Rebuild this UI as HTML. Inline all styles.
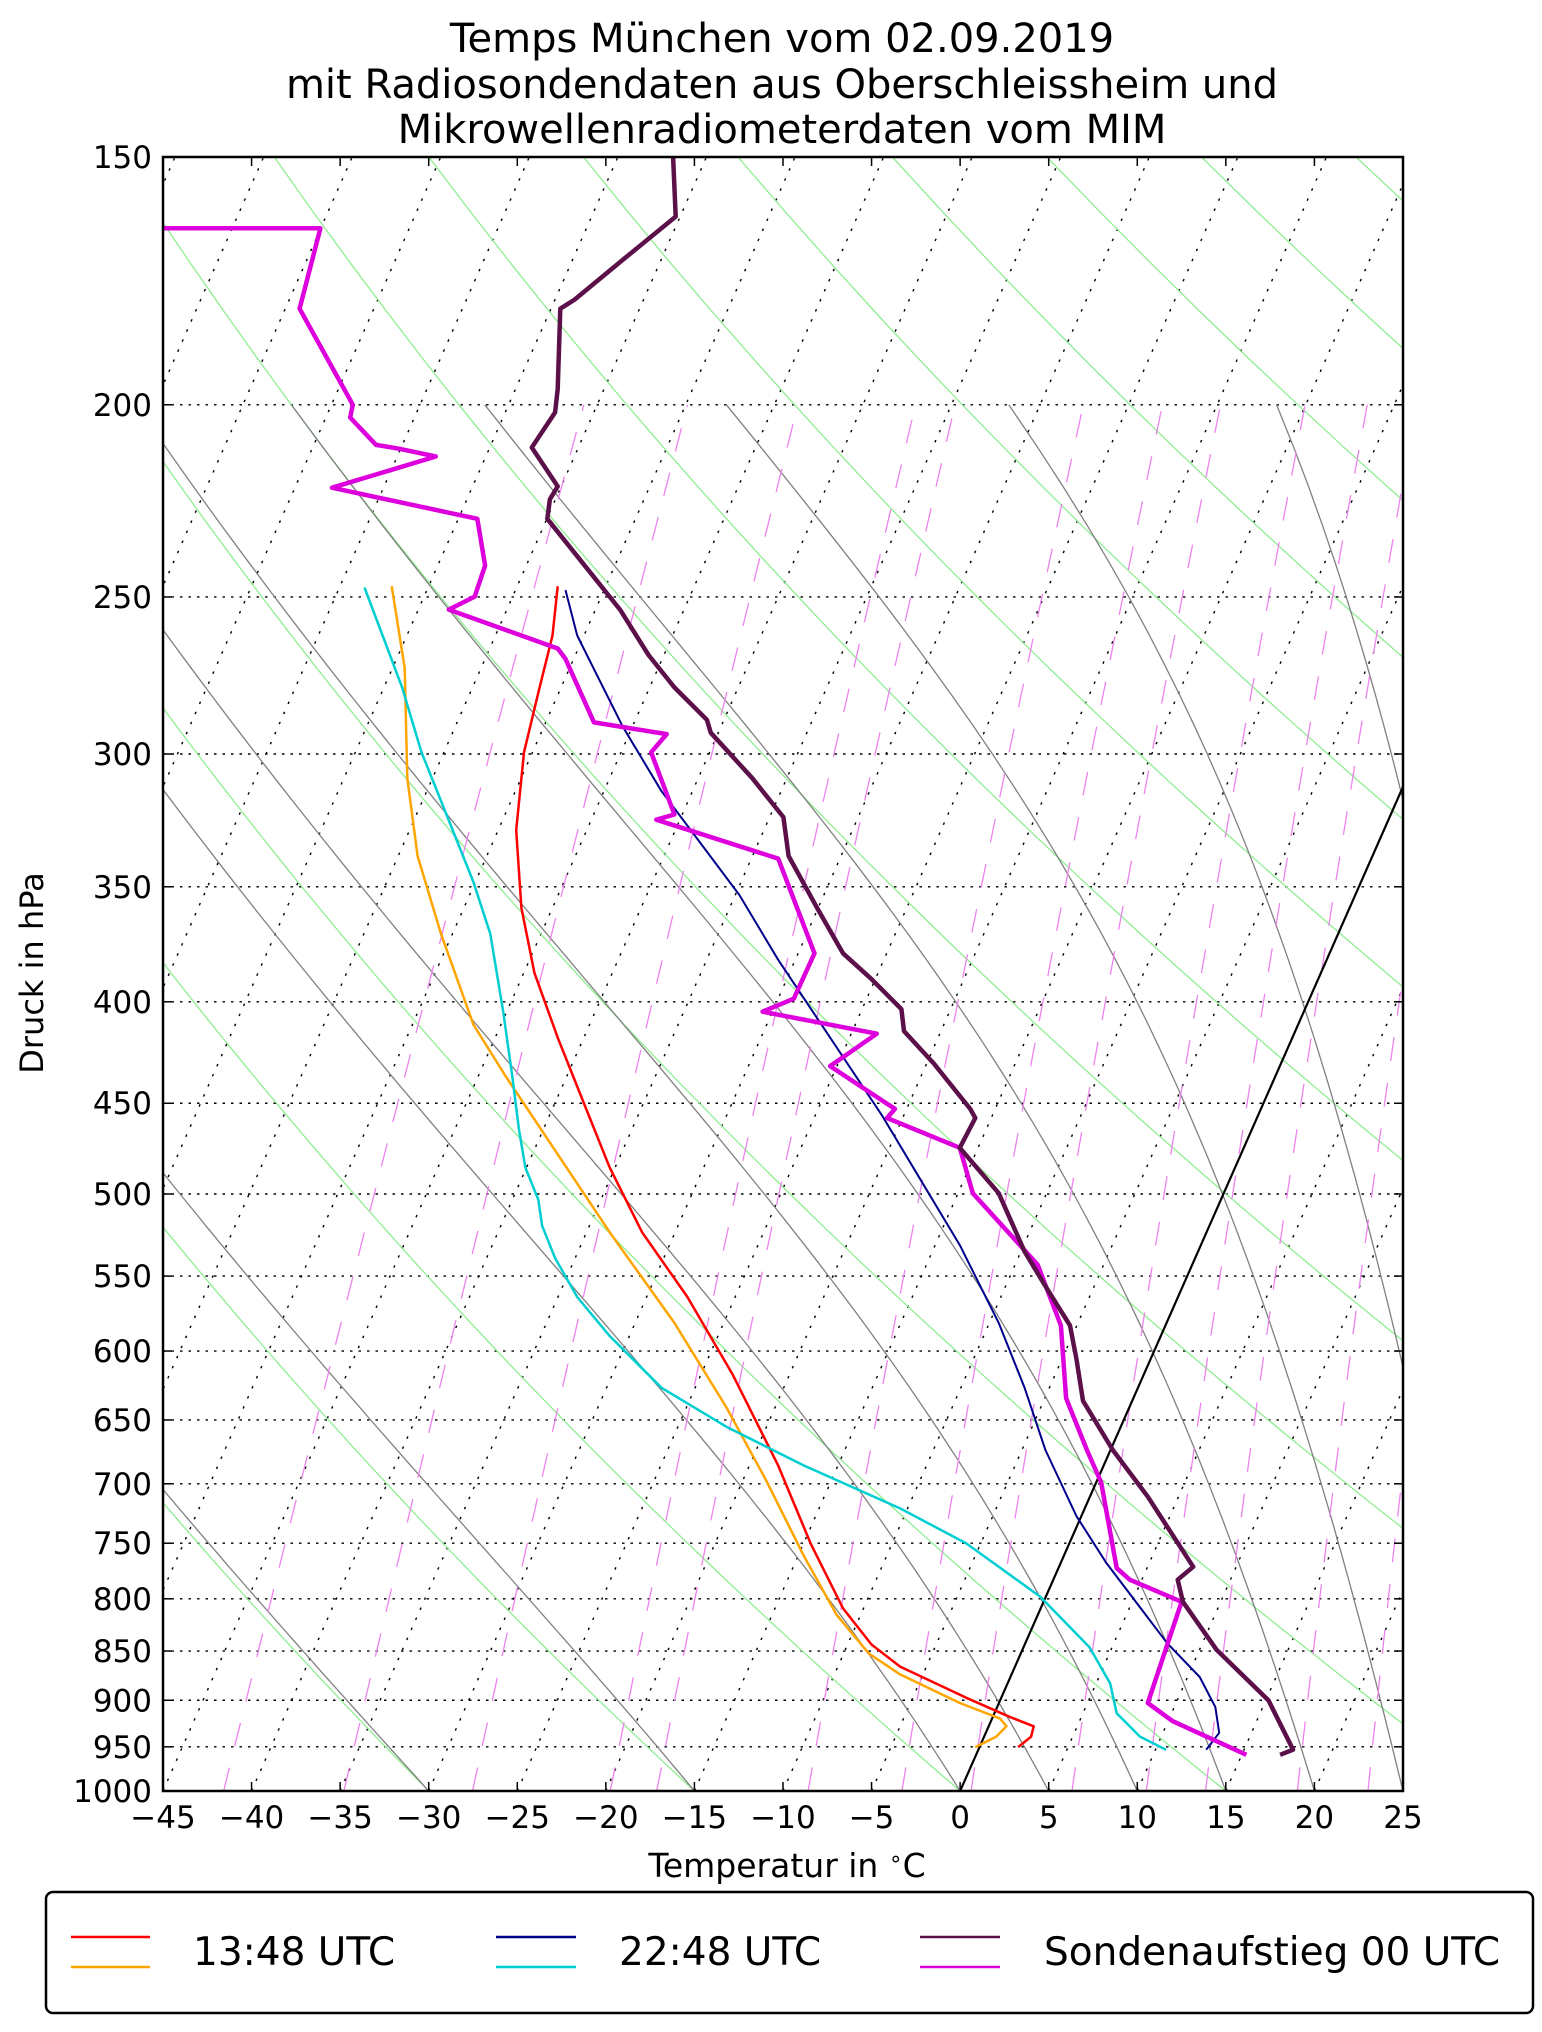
<!DOCTYPE html>
<html><head><meta charset="utf-8">
<style>
html,body{margin:0;padding:0;background:#fff;}
svg{display:block;}
text{font-family:"DejaVu Sans","Liberation Sans",sans-serif;fill:#000;}
</style></head>
<body>
<svg id="s" xmlns="http://www.w3.org/2000/svg" width="1542" height="2032" viewBox="0 0 1542 2032">
<defs><clipPath id="c"><rect x="163" y="157" width="1240" height="1634"/></clipPath></defs>
<g id="bg" clip-path="url(#c)"></g>
<g id="data" clip-path="url(#c)"></g>
<g id="ax"></g>
<text x="782" y="52" font-size="40" text-anchor="middle">Temps München vom 02.09.2019</text>
<text x="782" y="98" font-size="40" text-anchor="middle">mit Radiosondendaten aus Oberschleissheim und</text>
<text x="782" y="143" font-size="40" text-anchor="middle">Mikrowellenradiometerdaten vom MIM</text>
<text x="787" y="1877" font-size="33" text-anchor="middle">Temperatur in <tspan dy="-11" font-size="22">∘</tspan><tspan dy="11">C</tspan></text>
<text transform="translate(43,973) rotate(-90)" font-size="32" text-anchor="middle">Druck in hPa</text>
<rect x="46" y="1892" width="1487" height="121" rx="7" fill="#fff" stroke="#000" stroke-width="2.5"/>
<line x1="71" y1="1937" x2="150" y2="1937" stroke="#ff0000" stroke-width="2.5"/>
<line x1="71" y1="1967" x2="150" y2="1967" stroke="#ffa500" stroke-width="2.5"/>
<text x="193" y="1965" font-size="39">13:48 UTC</text>
<line x1="496" y1="1937" x2="576" y2="1937" stroke="#00008b" stroke-width="2.5"/>
<line x1="496" y1="1967" x2="576" y2="1967" stroke="#00ced1" stroke-width="2.5"/>
<text x="619" y="1965" font-size="39">22:48 UTC</text>
<line x1="920" y1="1937" x2="1000" y2="1937" stroke="#5c1049" stroke-width="2.5"/>
<line x1="920" y1="1967" x2="1000" y2="1967" stroke="#dd00dd" stroke-width="2.5"/>
<text x="1044" y="1965" font-size="39">Sondenaufstieg 00 UTC</text>
</svg>
<script>
(function(){
var NS="http://www.w3.org/2000/svg";
var L=163,R=1403,T=157,B=1791;
function Y(p){return T+1634*Math.log(p/150)/Math.log(1000/150);}
function X(t,p){return L+(t+45)*17.714+(B-Y(p))*0.441;}
function add(g,tag,attrs){var e=document.createElementNS(NS,tag);for(var k in attrs)e.setAttribute(k,attrs[k]);g.appendChild(e);return e;}
var bg=document.getElementById('bg'),dg=document.getElementById('data'),ax=document.getElementById('ax');
function poly(g,pts,st){var d=pts.map(function(q){return q[0].toFixed(1)+','+q[1].toFixed(1);}).join(' ');
 var a={points:d,fill:'none'};for(var k in st)a[k]=st[k];add(g,'polyline',a);}
for(var p=200;p<1000;p+=50){add(bg,'line',{x1:L,x2:R,y1:Y(p),y2:Y(p),stroke:'#000','stroke-width':1.4,'stroke-dasharray':'2.5,6'});}
for(var t=-140;t<=25;t+=5){add(bg,'line',{x1:X(t,1000),y1:Y(1000),x2:X(t,150),y2:Y(150),stroke:'#000','stroke-width':1.4,'stroke-dasharray':'2.5,8.5'});}
for(var th=-60;th<=250;th+=15){var pts=[];for(var p=1000;p>=150;p-=10){var tt=(th+273.15)*Math.pow(p/1000,0.2857)-273.15;pts.push([X(tt,p),Y(p)]);}poly(bg,pts,{stroke:'#90ee90','stroke-width':1.3});}
function es(Tk){return 6.112*Math.exp(17.67*(Tk-273.15)/(Tk-29.65));}
function dtdp(Tk,p){var e=es(Tk),rs=0.622*e/(p-e);var Rd=287.04,Cp=1005.7,Lv=2.501e6;return (Rd*Tk+Lv*rs)/(p*(Cp+Lv*Lv*rs*0.622/(Rd*Tk*Tk)));}
[-30,-15,0,5,10,15,20,25,30,35].forEach(function(t0){var Tk=t0+273.15,p=1000,pts=[[X(t0,1000),Y(1000)]];var dp=-2;
 while(p>200){var k1=dtdp(Tk,p),k2=dtdp(Tk+k1*dp/2,p+dp/2);Tk+=k2*dp;p+=dp;if(Math.round(p)%10==0)pts.push([X(Tk-273.15,p),Y(p)]);}
 poly(bg,pts,{stroke:'#808080','stroke-width':1.3});});
[0.1,0.2,0.4,0.8,1,2,3,4,6,8,10,14,18,22].forEach(function(w){var pts=[];for(var p=1000;p>=200;p-=20){var e=w*p/(622+w),l=Math.log(e/6.112),td=243.5*l/(17.67-l);pts.push([X(td,p),Y(p)]);}
 poly(bg,pts,{stroke:'#ee82ee','stroke-width':1.3,'stroke-dasharray':'24,22'});});
add(bg,'line',{x1:X(0,1000),y1:B,x2:X(0,150),y2:T,stroke:'#000','stroke-width':2.2});
function ser(arr,col,w){var pts=[];for(var i=0;i<arr.length;i+=2)pts.push([arr[i]*1.297,arr[i+1]*1.297]);poly(dg,pts,{stroke:col,'stroke-width':w,'stroke-linejoin':'round'});}
ser([302,452,312,515,314,600,322,660,340,720,365,790,390,830,430,890,470,950,520,1020,560,1085,590,1140,620,1200,645,1245,670,1275,694,1291,740,1313,771,1325,776,1331,768,1339,752,1347],'#ffa500',2.5);
ser([430,452,426,490,416,530,404,580,398,640,402,700,412,750,430,800,450,850,470,900,495,950,530,1000,565,1060,600,1130,625,1190,650,1240,672,1268,694,1285,745,1309,779,1324,797,1331,795,1339,785,1347],'#ff0000',2.5);
ser([281,453,295,490,310,530,325,580,345,630,365,680,378,720,388,780,395,830,400,870,405,900,415,925,418,945,428,970,445,1000,470,1030,510,1070,560,1100,620,1130,694,1163,745,1190,802,1231,840,1270,856,1298,861,1321,879,1339,899,1349],'#00ced1',2.5);
ser([436,455,445,490,460,520,480,560,510,610,540,650,570,690,600,740,640,800,680,860,710,910,740,960,770,1020,790,1070,806,1118,830,1169,853,1205,900,1267,925,1293,937,1316,940,1336,930,1349],'#00008b',2);
ser([126,176,247,176,231,238,272,312,270,322,290,343,308,346,336,352,256,376,368,400,374,436,366,460,346,470,430,500,436,508,458,557,514,566,502,580,520,628,506,632,600,662,628,735,612,770,588,780,676,797,640,822,690,855,684,862,740,885,750,920,800,975,818,1022,822,1078,838,1118,849,1143,861,1209,871,1218,911,1235,885,1313,904,1327,961,1353],'#dd00dd',4.5);
ser([519,121,521,167,483,198,443,231,432,238,430,300,428,318,410,345,420,360,430,375,424,385,422,400,450,435,478,470,500,505,520,530,545,555,548,565,560,578,580,600,600,625,604,630,608,660,630,700,650,735,672,755,695,778,697,795,720,820,748,855,752,862,740,885,770,920,790,965,805,990,825,1022,830,1048,835,1080,858,1118,885,1154,920,1208,908,1218,912,1235,938,1272,978,1311,997,1349,987,1353],'#5c1049',4.5);
add(ax,'rect',{x:L,y:T,width:R-L,height:B-T,fill:'none',stroke:'#000','stroke-width':2.5});
for(var t=-45;t<=25;t+=5){var x=L+(t+45)*17.714;
 add(ax,'line',{x1:x,x2:x,y1:B,y2:B-9,stroke:'#000','stroke-width':1.5});
 add(ax,'line',{x1:x,x2:x,y1:T,y2:T+9,stroke:'#000','stroke-width':1.5});
 var tx=add(ax,'text',{x:x,y:1828,'font-size':31,'text-anchor':'middle'});tx.textContent=(t<0?'\u2212'+(-t):''+t);}
for(var p=150;p<=1000;p+=50){var y=Y(p);
 add(ax,'line',{x1:L,x2:L+9,y1:y,y2:y,stroke:'#000','stroke-width':1.5});
 add(ax,'line',{x1:R,x2:R-9,y1:y,y2:y,stroke:'#000','stroke-width':1.5});
 var ty=add(ax,'text',{x:152,y:y+11,'font-size':31,'text-anchor':'end'});ty.textContent=''+p;}
})();
</script>
</body></html>
